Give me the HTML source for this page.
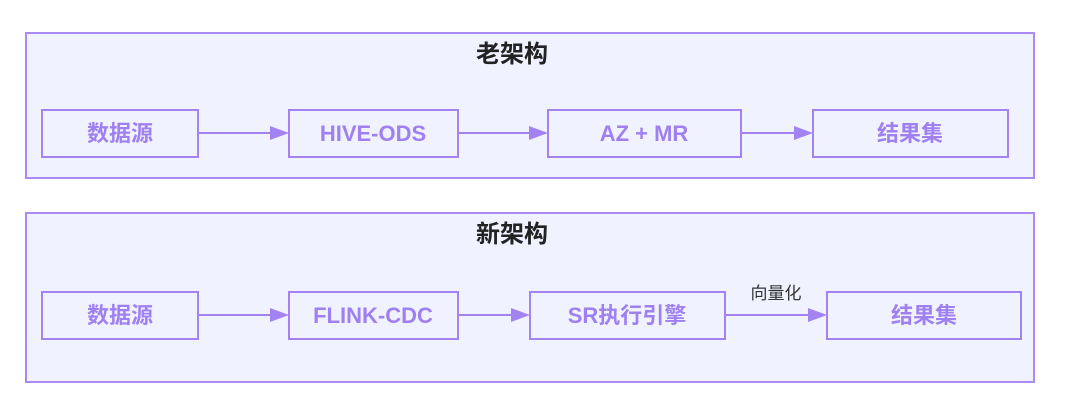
<!DOCTYPE html>
<html><head><meta charset="utf-8"><style>
body{margin:0;background:#fff;width:1080px;height:410px;overflow:hidden}
text{font-family:"Liberation Sans","Noto Sans CJK SC",sans-serif}
</style></head><body>
<svg width="1080" height="410" viewBox="0 0 1080 410">
<g fill="#f0f3ff" stroke="#a98bf3" stroke-width="2">
<rect x="26" y="33" width="1008" height="145"/>
<rect x="26" y="213" width="1008" height="169"/>
</g>
<g fill="#f0f3ff" stroke="#a383f2" stroke-width="2">
<rect x="42" y="110" width="156" height="47"/>
<rect x="289" y="110" width="169" height="47"/>
<rect x="548" y="110" width="193" height="47"/>
<rect x="813" y="110" width="195" height="47"/>
<rect x="42" y="292" width="156" height="47"/>
<rect x="289" y="292" width="169" height="47"/>
<rect x="530" y="292" width="195" height="47"/>
<rect x="827" y="292" width="194" height="47"/>
</g>
<g stroke="#a383f2" stroke-width="2">
<line x1="198" y1="133" x2="272" y2="133"/>
<line x1="458" y1="133" x2="531" y2="133"/>
<line x1="741" y1="133" x2="796" y2="133"/>
<line x1="198" y1="315" x2="272" y2="315"/>
<line x1="458" y1="315" x2="513" y2="315"/>
<line x1="725" y1="315" x2="810" y2="315"/>
</g>
<g fill="#a383f2">
<polygon points="270,126 289,133 270,140"/>
<polygon points="529,126 548,133 529,140"/>
<polygon points="794,126 813,133 794,140"/>
<polygon points="270,308 289,315 270,322"/>
<polygon points="511,308 530,315 511,322"/>
<polygon points="808,308 827,315 808,322"/>
</g>
<g font-size="24" font-weight="bold" fill="#222" text-anchor="middle">
<text x="512" y="62">老架构</text>
<text x="512" y="242">新架构</text>
</g>
<g font-size="22" font-weight="bold" fill="#9f80f1" text-anchor="middle">
<text x="120" y="141">数据源</text>
<text x="373" y="141">HIVE-ODS</text>
<text x="644" y="141">AZ + MR</text>
<text x="910" y="141">结果集</text>
<text x="120" y="323">数据源</text>
<text x="373" y="323">FLINK-CDC</text>
<text x="627" y="323">SR执行引擎</text>
<text x="924" y="323">结果集</text>
</g>
<text x="776" y="299" font-size="17" fill="#333" text-anchor="middle">向量化</text>
</svg>
</body></html>
